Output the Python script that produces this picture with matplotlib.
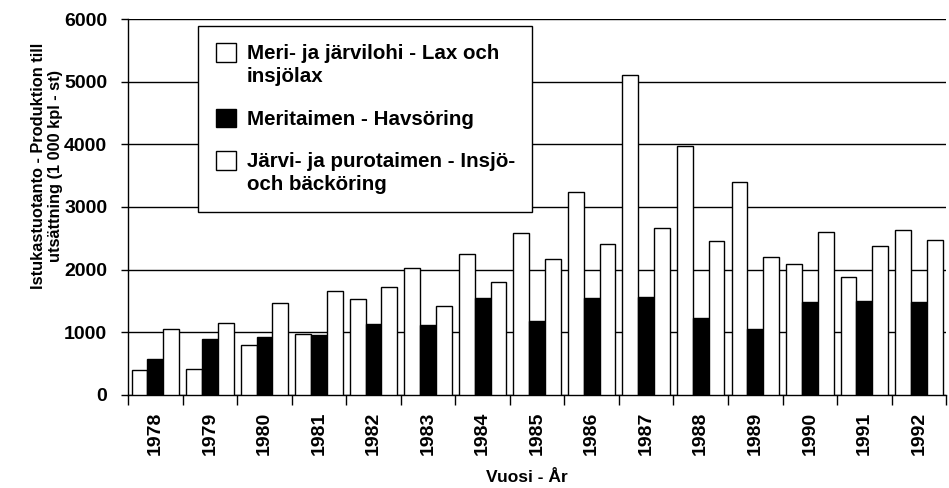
import numpy as np
import matplotlib
matplotlib.use("Agg")
import matplotlib.pyplot as plt
import matplotlib.patches as mpatches
from matplotlib.legend_handler import HandlerPatch

# Data (1 000 kpl - st)
years = ["1978", "1979", "1980", "1981", "1982", "1983", "1984", "1985",
         "1986", "1987", "1988", "1989", "1990", "1991", "1992"]
lohi = [400, 410, 800, 965, 1525, 2020, 2250, 2590, 3235, 5105, 3975, 3405, 2095, 1875, 2630]
meritaimen = [565, 890, 930, 955, 1130, 1120, 1545, 1175, 1545, 1565, 1225, 1045, 1480, 1490, 1480]
jarvitaimen = [1045, 1145, 1470, 1650, 1715, 1415, 1800, 2175, 2410, 2665, 2460, 2195, 2600, 2375, 2470]

labels = ["Meri- ja järvilohi - Lax och\ninsjölax",
          "Meritaimen - Havsöring",
          "Järvi- ja purotaimen - Insjö-\noch bäcköring"]

plt.rcParams["font.family"] = ["Liberation Sans", "DejaVu Sans"]
plt.rcParams["font.weight"] = "bold"

fig = plt.figure(figsize=(9.49, 4.88), dpi=100)
ax = fig.add_axes([0.135, 0.191, 0.862, 0.770])

x = np.arange(len(years))
w = 0.29
ax.bar(x - w, lohi, w, color="white", edgecolor="black", linewidth=1, zorder=3)
ax.bar(x, meritaimen, w, color="black", edgecolor="black", linewidth=1, zorder=3)
ax.bar(x + w, jarvitaimen, w, color="white", edgecolor="black", linewidth=1, zorder=3)

ax.set_xlim(-0.5, len(years) - 0.5)
ax.set_ylim(0, 6000)
ax.set_yticks(np.arange(0, 6001, 1000))
ax.yaxis.grid(True, color="black", linewidth=1, zorder=0)
ax.tick_params(axis="y", labelsize=14, length=5, width=1, direction="out", pad=10)
for t in ax.get_yticklabels():
    t.set_fontweight("bold")

# ticks at group boundaries, labels at group centres
ax.set_xticks(np.arange(-0.5, len(years), 1))
ax.set_xticklabels([])
ax.tick_params(axis="x", which="major", length=7, width=1, direction="out")
ax.set_xticks(x, minor=True)
ax.set_xticklabels(years, minor=True, rotation=90, fontsize=14, fontweight="bold")
ax.tick_params(axis="x", which="minor", length=0, pad=12)

for s in ["top", "right"]:
    ax.spines[s].set_visible(False)
ax.spines["left"].set_linewidth(1)
ax.spines["bottom"].set_linewidth(1)

ax.set_xlabel("Vuosi - År", fontsize=12.5, fontweight="bold")
ax.xaxis.set_label_coords(0.488, -0.2)
ax.set_ylabel("Istukastuotanto - Produktion till\nutsättning (1 000 kpl - st)",
              fontsize=11.8, fontweight="bold", linespacing=1.2)
ax.yaxis.set_label_coords(-0.079, 0.61)


# legend boxes sit level with the first text line, as in the original
def top_box(legend, orig_handle, xdescent, ydescent, width, height, fontsize):
    return mpatches.Rectangle((-xdescent, -ydescent + 0.62 * fontsize), width, height)


handles = [mpatches.Patch(facecolor="white", edgecolor="black"),
           mpatches.Patch(facecolor="black", edgecolor="black"),
           mpatches.Patch(facecolor="white", edgecolor="black")]
leg = ax.legend(handles, labels, loc="upper left", bbox_to_anchor=(0.086, 0.981),
                fancybox=False, framealpha=1, edgecolor="black",
                prop={"size": 14.8, "weight": "bold"},
                handlelength=1.0, handleheight=1.0, labelspacing=1.1,
                borderpad=0.85, handletextpad=0.5, borderaxespad=0,
                handler_map={handles[0]: HandlerPatch(patch_func=top_box),
                             handles[2]: HandlerPatch(patch_func=top_box)})
for t in leg.get_texts():
    t.set_linespacing(1.3)
leg.get_frame().set_linewidth(1)
leg.set_zorder(5)

plt.savefig("out.png", dpi=100)
